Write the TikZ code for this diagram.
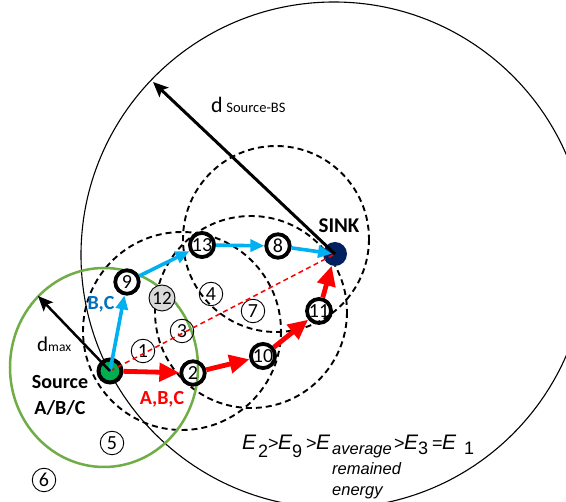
\documentclass[tikz,border=0pt]{standalone}
\usepackage{fontspec}
\setmainfont{Carlito}
\newfontfamily\arialf{Liberation Sans}
\usetikzlibrary{arrows.meta}
\definecolor{arrblue}{HTML}{00B0F0}
\definecolor{txtblue}{HTML}{0070C0}
\definecolor{ringgreen}{HTML}{70AD47}
\definecolor{srcgreen}{HTML}{00B050}
\definecolor{sinknavy}{HTML}{002060}
\definecolor{nodegray}{HTML}{D9D9D9}
\begin{document}
\begin{tikzpicture}[x=1pt,y=-1pt,
  hop/.style={circle, draw=black, line width=3.8pt, minimum size=23.5pt, inner sep=0pt, font=\fontsize{20}{20}\selectfont},
  idle/.style={circle, draw=black, line width=0.9pt, minimum size=23.5pt, inner sep=0pt, font=\fontsize{20}{20}\selectfont},
  rangering/.style={draw=black, line width=1.9pt, dash pattern=on 6pt off 4pt},
  bluearr/.style={draw=arrblue, line width=3.6pt, -{Triangle[length=14pt,width=12pt]}},
  redarr/.style={draw=red, line width=4.8pt, -{Triangle[length=20pt,width=18pt]}},
  blackarr/.style={draw=black, -{Stealth[length=15pt,width=13pt,inset=3pt]}},
  lbl/.style={anchor=base, inner sep=0pt, font=\fontsize{20}{20}\selectfont\bfseries},
  eq/.style={anchor=base west, inner sep=0pt, font=\arialf\fontsize{21}{21}\selectfont\itshape},
  eqs/.style={anchor=base west, inner sep=0pt, font=\arialf\fontsize{18}{18}\selectfont},
  eqw/.style={anchor=base west, inner sep=0pt, font=\arialf\fontsize{16.5}{16.5}\selectfont\itshape}
]
\clip (0,0) rectangle (566,502);
\fill[white] (0,0) rectangle (566,502);

% big circle around the sink
\draw[black, line width=1.1pt] (334,255) circle (253);
% range circles
\draw[rangering] (182,331) circle (99);
\draw[rangering] (276,239) circle (93);
\draw[rangering] (251,312) circle (96);
% green circle around the source
\draw[ringgreen, line width=2.5pt] (104,367.5) ellipse [x radius=94pt, y radius=99.5pt];

% nodes
\node[circle, fill=sinknavy, minimum size=24pt, inner sep=0pt] (sink) at (335,254) {};
\node[circle, fill=srcgreen, draw=black, line width=4pt, minimum size=23pt, inner sep=0pt] (S) at (110,371) {};
\node[hop] (n9) at (127,282) {9};
\node[hop] (n13) at (202,245) {13};
\node[hop] (n8) at (278,246) {8};
\node[hop] (n2) at (193,373) {2};
\node[hop] (n10) at (263,356) {10};
\node[hop] (n11) at (319,311) {11};
\node[circle, draw=black, fill=nodegray, line width=0.9pt, minimum size=26pt, inner sep=0pt, font=\fontsize{19}{19}\selectfont] (n12) at (162,298) {12};
\node[idle] (n4) at (211,294) {4};
\node[idle] (n7) at (253,311) {7};
\node[idle] (n3) at (182,331) {3};
\node[idle] (n1) at (143,351) {1};
\node[idle] (n5) at (112,443) {5};
\node[idle] (n6) at (44,480) {6};

% arrows
\draw[red, line width=1.5pt, dash pattern=on 5pt off 3.5pt] (S.center) -- (sink.center);
\draw[bluearr] (S.center) -- (n9);
\draw[bluearr] (n9) -- (n13);
\draw[bluearr] (n13) -- (n8);
\draw[bluearr, shorten >=3pt] (n8) -- (sink.center);
\draw[redarr] (S) -- (n2);
\draw[redarr] (n2) -- (n10);
\draw[redarr] (n10) -- (n11);
\draw[redarr] (n11) -- (sink);

\coordinate (bstip) at (153,82);
\coordinate (dmtip) at (38,296);
\draw[blackarr, line width=3pt] (sink.center) -- (bstip);
\draw[blackarr, line width=2.5pt] (S.center) -- (dmtip);

% labels
\node[anchor=base west, inner sep=0pt] (dsb) at (211,113) {\fontsize{22}{22}\selectfont d\,\fontsize{14.5}{14.5}\selectfont Source-BS};
\node[anchor=base west, inner sep=0pt] (dmx) at (37,352) {\fontsize{21}{21}\selectfont d\fontsize{13.5}{13.5}\selectfont max};
\node[lbl] (srcA) at (60,389) {Source};
\node[lbl] (srcB) at (60,415) {A/B/C};
\node[lbl, text=red] (abc) at (162,405) {A,B,C};
\node[lbl, text=txtblue] (bc) at (101,310) {B,C};
\node[lbl, font=\fontsize{21}{21}\selectfont\bfseries] (sinklbl) at (339,233) {SINK};

% energy relation
\node[eq] (e1) at (242,450) {E};
\node[eqs] (e2) at (258,458) {2};
\node[eqs] (e3) at (268,450) {>};
\node[eq] (e4) at (278,450) {E};
\node[eqs] (e5) at (292,458) {9};
\node[eqs] (e6) at (306,450) {>};
\node[eq] (e7) at (316,450) {E};
\node[eqw] (e8) at (332,455) {average};
\node[eqs] (e9) at (394,450) {>};
\node[eq] (e10) at (404,450) {E};
\node[eqs] (e11) at (418,455) {3};
\node[eqs] (e12) at (432,450) {=};
\node[eq] (e13) at (442,450) {E};
\node[eqs] (e14) at (464,455) {1};
\node[eqw] (e15) at (332,475) {remained};
\node[eqw] (e16) at (332,496) {energy};
\end{tikzpicture}
\end{document}
